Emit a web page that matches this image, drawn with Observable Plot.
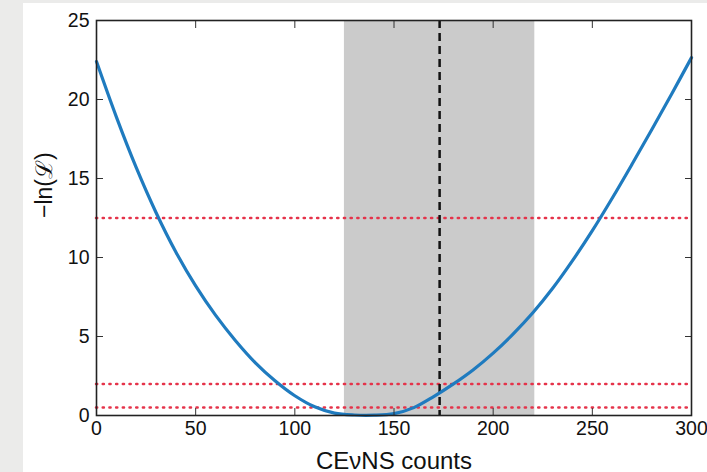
<!DOCTYPE html>
<html>
<head>
<meta charset="utf-8">
<script src="https://cdn.jsdelivr.net/npm/d3@7"></script>
<script src="https://cdn.jsdelivr.net/npm/@observablehq/plot@0.6"></script>
<style>
  html, body { margin: 0; padding: 0; background: #ebebea; width: 707px; height: 472px; overflow: hidden; }
  #card { position: absolute; left: 23px; top: 3px; width: 684px; height: 469px; background: #ffffff; }
</style>
</head>
<body>
<div id="card"></div>
<script>
// CEvNS counts (x) and -ln(L) (y)
const counts = [0, 10, 20, 30, 40, 50, 60, 70, 80, 90, 100, 110, 120, 130, 140, 150, 160, 170, 180, 190, 200, 210, 220, 230, 240, 250, 260, 270, 280, 290, 300];
const negLogL = [22.4, 18.9, 15.7, 12.85, 10.35, 8.2, 6.35, 4.75, 3.35, 2.2, 1.25, 0.55, 0.15, 0.03, 0.02, 0.12, 0.5, 1.2, 2.0, 2.9, 3.95, 5.15, 6.5, 8.05, 9.8, 11.7, 13.75, 15.9, 18.1, 20.35, 22.65];
const bandLo = 125, bandHi = 221;   // grey band
const bestFit = [173];              // dashed vertical line
const levels = [0.5, 2, 12.5];      // red dotted horizontal lines
const xTicks = [0, 50, 100, 150, 200, 250, 300];
const yTicks = [0, 5, 10, 15, 20, 25];
const xLabel = "CEνNS counts";
const yLabel = "−ln(ℒ)";

const curve = counts.map((n, i) => ({n, v: negLogL[i]}));
const font = "'Liberation Sans', Arial, Helvetica, sans-serif";

const chart = Plot.plot({
  width: 684,
  height: 469,
  marginLeft: 73,
  marginRight: 16,
  marginTop: 17,
  marginBottom: 57,
  style: {fontFamily: font, fontSize: "19px", color: "#111", background: "#ffffff"},
  x: {domain: [0, 300]},
  y: {domain: [0, 25]},
  marks: [
    Plot.rect([{lo: bandLo, hi: bandHi}], {x1: "lo", x2: "hi", fill: "#cbcbcb"}),
    Plot.ruleY(levels, {stroke: "#e5334a", strokeWidth: 2.5, strokeDasharray: "1.2,5.5", strokeLinecap: "round"}),
    Plot.ruleX(bestFit, {stroke: "#111", strokeWidth: 2.5, strokeDasharray: "8,5"}),
    Plot.line(curve, {x: "n", y: "v", stroke: "#1f7bbf", strokeWidth: 3.2, curve: "catmull-rom"}),
    Plot.axisX(xTicks, {anchor: "bottom", tickSize: -7, tickPadding: 13, stroke: "#333", label: null, fontSize: 19.5}),
    Plot.axisX(xTicks, {anchor: "top", tickSize: -7, tickFormat: () => "", stroke: "#333", label: null}),
    Plot.axisY(yTicks, {anchor: "left", tickSize: -7, tickPadding: 14, stroke: "#333", label: null, fontSize: 19.5}),
    Plot.axisY(yTicks, {anchor: "right", tickSize: -7, tickFormat: () => "", stroke: "#333", label: null}),
    Plot.text([xLabel], {frameAnchor: "bottom", lineAnchor: "bottom", dy: 53, fontSize: 24, fill: "#111", text: d => d}),
    Plot.text([yLabel], {frameAnchor: "left", rotate: -90, dx: -52, fontSize: 23, fill: "#111", text: d => d}),
    Plot.frame({stroke: "#222", strokeWidth: 1.6})
  ]
});
document.getElementById("card").appendChild(chart);
</script>
</body>
</html>
